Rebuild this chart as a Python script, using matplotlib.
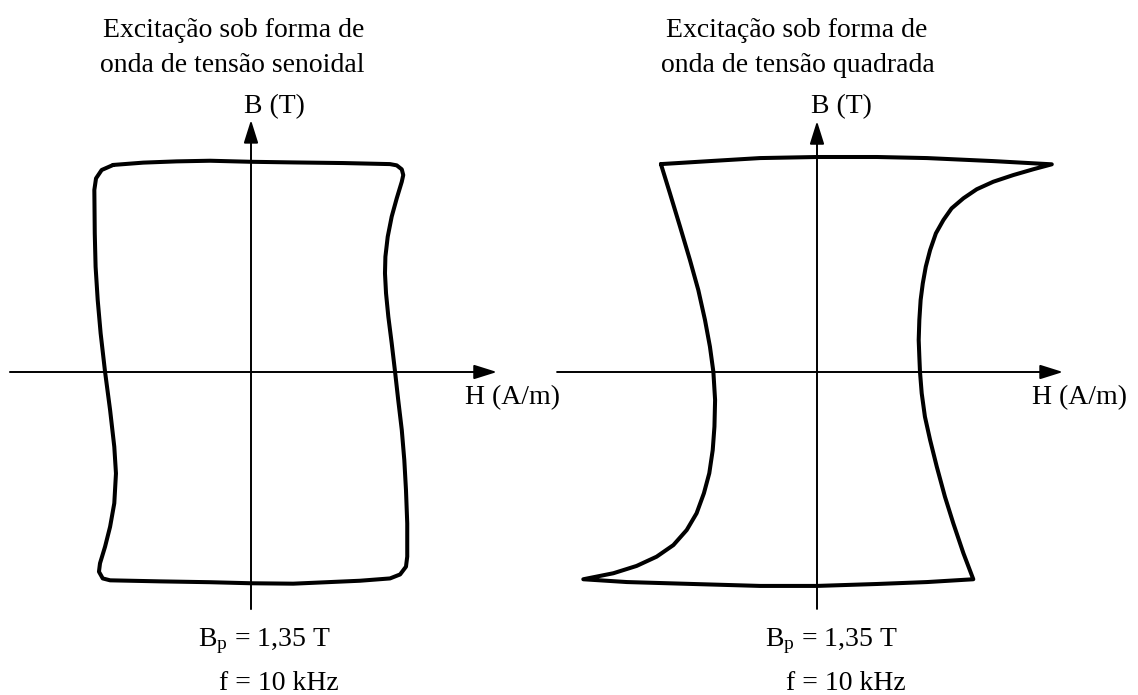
import numpy as np
import matplotlib
matplotlib.use("Agg")
import matplotlib.pyplot as plt

plt.rcParams['font.family'] = ['Liberation Serif', 'DejaVu Serif']
plt.rcParams['mathtext.fontset'] = 'custom'
plt.rcParams['mathtext.rm'] = 'Liberation Serif'
plt.rcParams['mathtext.it'] = 'Liberation Serif:italic'

# laços B-H em p.u. (B/Bp), lidos ponto a ponto
# excitação senoidal
h_sen = [-0.656, -0.513, -0.354, -0.195, 0.0, 0.201, 0.44, 0.662, 0.694, 0.718,
         0.725, 0.718, 0.694, 0.67, 0.651, 0.64, 0.638, 0.643, 0.654, 0.67,
         0.686, 0.701, 0.718, 0.73, 0.738, 0.744, 0.744, 0.738, 0.71, 0.662,
         0.519, 0.36, 0.201, 0.0, -0.195, -0.433, -0.671, -0.706, -0.724, -0.719,
         -0.695, -0.671, -0.651, -0.643, -0.651, -0.671, -0.695, -0.716, -0.73,
         -0.74, -0.744, -0.746, -0.738, -0.711, -0.656]
b_sen = [0.986, 0.997, 1.003, 1.006, 1.001, 0.998, 0.995, 0.99, 0.984, 0.965,
         0.938, 0.906, 0.827, 0.74, 0.644, 0.549, 0.47, 0.375, 0.263, 0.137,
         0.001, -0.133, -0.276, -0.419, -0.562, -0.721, -0.879, -0.927, -0.964, -0.983,
         -0.994, -1.001, -1.008, -1.006, -1.001, -0.997, -0.992, -0.983, -0.951, -0.911,
         -0.832, -0.737, -0.625, -0.483, -0.356, -0.181, 0.001, 0.184, 0.343,
         0.501, 0.66, 0.867, 0.922, 0.962, 0.986]

# excitação quadrada
h_quad = [-0.726, -0.498, -0.265, 0.0, 0.279, 0.512, 0.819, 1.092,
          1.006, 0.913, 0.82, 0.743, 0.681, 0.626, 0.588, 0.553, 0.526, 0.506,
          0.492, 0.482, 0.476, 0.473, 0.476, 0.479, 0.487, 0.502, 0.526, 0.557,
          0.595, 0.634, 0.681, 0.727,
          0.512, 0.279, 0.0, -0.265, -0.577, -0.884, -1.087,
          -0.947, -0.839, -0.746, -0.668, -0.606, -0.56, -0.526, -0.501, -0.485,
          -0.477, -0.474, -0.482, -0.498, -0.521, -0.552, -0.591, -0.637, -0.684,
          -0.726]
b_quad = [0.967, 0.981, 0.995, 1.0, 1.0, 0.995, 0.981, 0.966,
          0.943, 0.916, 0.885, 0.85, 0.808, 0.761, 0.707, 0.645, 0.567, 0.49,
          0.412, 0.335, 0.242, 0.149, 0.071, 0.001, -0.099, -0.208, -0.316, -0.44,
          -0.58, -0.704, -0.843, -0.964,
          -0.977, -0.986, -0.995, -0.995, -0.986, -0.977, -0.964,
          -0.936, -0.902, -0.859, -0.805, -0.735, -0.657, -0.564, -0.471, -0.363,
          -0.254, -0.13, 0.001, 0.118, 0.242, 0.381, 0.521, 0.676, 0.831,
          0.967]

titulos = ["Excitação sob forma de\nonda de tensão senoidal",
           "Excitação sob forma de\nonda de tensão quadrada"]
rotulo_B = "B (T)"
rotulo_H = "H (A/m)"
Bp = "1,35"
freq = "10 kHz"

W, H = 1138, 695
fig = plt.figure(figsize=(W / 100, H / 100), dpi=100)


def px(x, y):
    return x / W, 1 - y / H


fs = 20
seta = dict(arrowstyle='-|>,head_length=0.7,head_width=0.22', color='k',
            lw=1.4, mutation_scale=20, shrinkA=0, shrinkB=0)

# painel: origem dos eixos (px), escala px/pu, extensão das setas, dados e textos
paineis = [
    dict(ox=251, oy=372, esc=210, x0=0, x1=569, hx=(-1.148, 1.171), vy=(-1.129, 1.2),
         h=h_sen, b=b_sen, tit=titulos[0], tx=(103, 100), bx=244, hlx=465,
         bpx=198, fx=219),
    dict(ox=817, oy=372, esc=215, x0=569, x1=1138, hx=(-1.209, 1.144), vy=(-1.102, 1.167),
         h=h_quad, b=b_quad, tit=titulos[1], tx=(666, 661), bx=811, hlx=1032,
         bpx=765, fx=786),
]

for p in paineis:
    ax = fig.add_axes([p['x0'] / W, 0, (p['x1'] - p['x0']) / W, 1])
    ax.set_xlim((p['x0'] - p['ox']) / p['esc'], (p['x1'] - p['ox']) / p['esc'])
    ax.set_ylim((p['oy'] - H) / p['esc'], p['oy'] / p['esc'])
    ax.axis('off')

    # eixos com setas
    ax.annotate('', xy=(p['hx'][1], 0), xytext=(p['hx'][0], 0), arrowprops=seta,
                annotation_clip=False)
    ax.annotate('', xy=(0, p['vy'][1]), xytext=(0, p['vy'][0]), arrowprops=seta,
                annotation_clip=False)

    # laço de histerese
    ax.plot(p['h'], p['b'], color='k', lw=2.9, solid_joinstyle='round',
            solid_capstyle='round', clip_on=False)

    l1, l2 = p['tit'].split('\n')
    fig.text(*px(p['tx'][0], 37), l1, fontsize=fs, va='baseline', ha='left')
    fig.text(*px(p['tx'][1], 72), l2, fontsize=fs, va='baseline', ha='left')
    fig.text(*px(p['bx'], 113), rotulo_B, fontsize=fs, va='baseline', ha='left')
    fig.text(*px(p['hlx'], 404), rotulo_H, fontsize=fs, va='baseline', ha='left')
    fig.text(*px(p['bpx'], 646), r'B$_{\mathrm{p}}$ = ' + Bp + ' T', fontsize=fs,
             va='baseline', ha='left')
    fig.text(*px(p['fx'], 690), 'f = ' + freq, fontsize=fs, va='baseline', ha='left')

fig.savefig('out.png', dpi=100)
